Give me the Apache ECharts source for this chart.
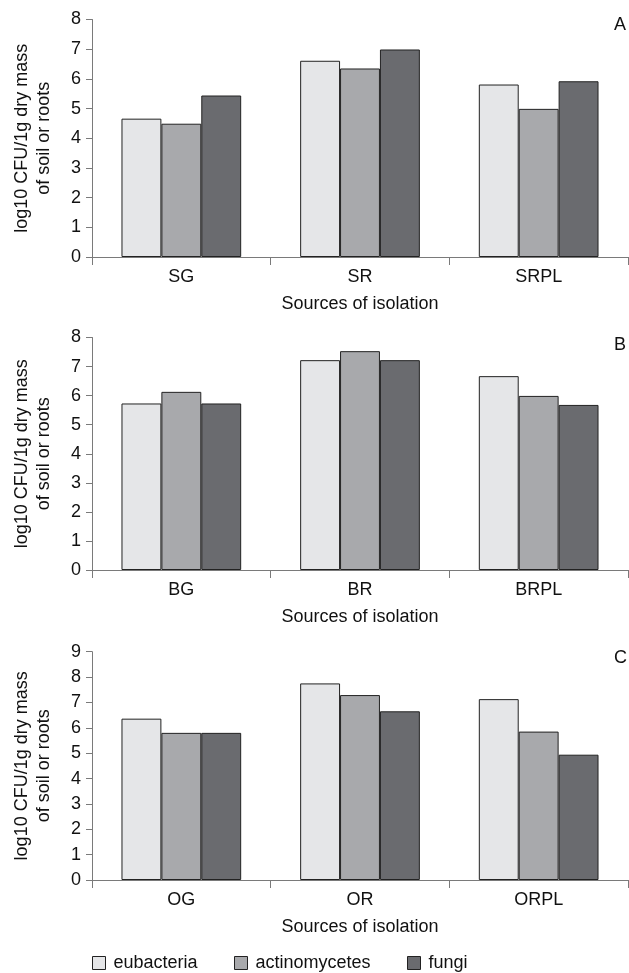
<!DOCTYPE html>
<html>
<head>
<meta charset="utf-8">
<script src="https://cdn.jsdelivr.net/npm/echarts@6/dist/echarts.min.js"></script>
<style>
html,body{margin:0;padding:0;background:#fff;}
#chart{width:629px;height:973px;}
</style>
</head>
<body>
<div id="chart"></div>
<script>
// ---- data ----
const seriesNames = ['eubacteria', 'actinomycetes', 'fungi'];
const panelLetters = ['A', 'B', 'C'];

const categoriesA = ['SG', 'SR', 'SRPL'];
const eubacteriaA = [4.66, 6.61, 5.81];
const actinomycetesA = [4.49, 6.35, 4.99];
const fungiA = [5.44, 6.99, 5.92];

const categoriesB = ['BG', 'BR', 'BRPL'];
const eubacteriaB = [5.73, 7.22, 6.67];
const actinomycetesB = [6.13, 7.53, 5.99];
const fungiB = [5.73, 7.22, 5.68];

const categoriesC = ['OG', 'OR', 'ORPL'];
const eubacteriaC = [6.36, 7.75, 7.13];
const actinomycetesC = [5.80, 7.29, 5.85];
const fungiC = [5.80, 6.65, 4.94];

const yMaxes = [8, 8, 9];
const xAxisTitle = 'Sources of isolation';
const yAxisTitle = 'log10 CFU/1g dry mass\nof soil or roots';

// ---- styling / layout ----
const FONT = 'Liberation Sans, Arial, sans-serif';
const FS = 18;
const colors = ['#e5e6e8', '#a8a9ac', '#6a6b6f'];
const axisColor = '#7a7a7a';
const grids = [
  { left: 92, right: 1, top: 19.5, height: 237.5 },
  { left: 92, right: 1, top: 337.5, height: 232.5 },
  { left: 92, right: 1, top: 651.7, height: 228.3 }
];
const panels = [
  { cats: categoriesA, vals: [eubacteriaA, actinomycetesA, fungiA] },
  { cats: categoriesB, vals: [eubacteriaB, actinomycetesB, fungiB] },
  { cats: categoriesC, vals: [eubacteriaC, actinomycetesC, fungiC] }
];
const letterTops = [16, 336, 649];

const xAxes = panels.map((p, i) => ({
  type: 'category', gridIndex: i, data: p.cats,
  axisLine: { lineStyle: { color: axisColor, width: 1 } },
  axisTick: { show: true, length: 8, lineStyle: { color: axisColor } },
  axisLabel: { color: '#111', fontFamily: FONT, fontSize: FS, margin: 11 },
  name: xAxisTitle, nameLocation: 'middle', nameGap: 38,
  nameTextStyle: { color: '#111', fontFamily: FONT, fontSize: FS }
}));
const yAxes = panels.map((p, i) => ({
  type: 'value', gridIndex: i, min: 0, max: yMaxes[i], interval: 1,
  splitLine: { show: false },
  axisLine: { show: true, lineStyle: { color: axisColor, width: 1 } },
  axisTick: { show: true, length: 6, lineStyle: { color: axisColor } },
  axisLabel: { color: '#111', fontFamily: FONT, fontSize: FS, margin: 11 },
  name: yAxisTitle, nameLocation: 'middle', nameGap: 37,
  nameTextStyle: { color: '#111', fontFamily: FONT, fontSize: FS, lineHeight: 22 }
}));

const series = [];
panels.forEach((p, i) => {
  seriesNames.forEach((n, k) => {
    series.push({
      name: n, type: 'bar', xAxisIndex: i, yAxisIndex: i,
      data: p.vals[k], barGap: '0%', barCategoryGap: '33%',
      itemStyle: { color: colors[k], borderColor: '#222', borderWidth: 1 },
      animation: false
    });
  });
});

const legendLefts = [92, 234, 407];
const legends = seriesNames.map((n, k) => ({
  data: [n], left: legendLefts[k], top: 954, padding: 0,
  icon: 'rect', itemWidth: 13, itemHeight: 13,
  itemStyle: { borderColor: '#222', borderWidth: 1 },
  textStyle: { color: '#111', fontFamily: FONT, fontSize: FS, padding: [0, 0, 0, 3] },
  selectedMode: false
}));

const titles = panelLetters.map((t, i) => ({
  text: t, left: 614, top: letterTops[i], padding: 0,
  textStyle: { color: '#111', fontFamily: FONT, fontSize: FS, fontWeight: 'normal' }
}));

const chart = echarts.init(document.getElementById('chart'), null, { renderer: 'canvas' });
chart.setOption({
  backgroundColor: '#fff',
  animation: false,
  title: titles,
  legend: legends,
  grid: grids,
  xAxis: xAxes,
  yAxis: yAxes,
  series: series
});
</script>
</body>
</html>
